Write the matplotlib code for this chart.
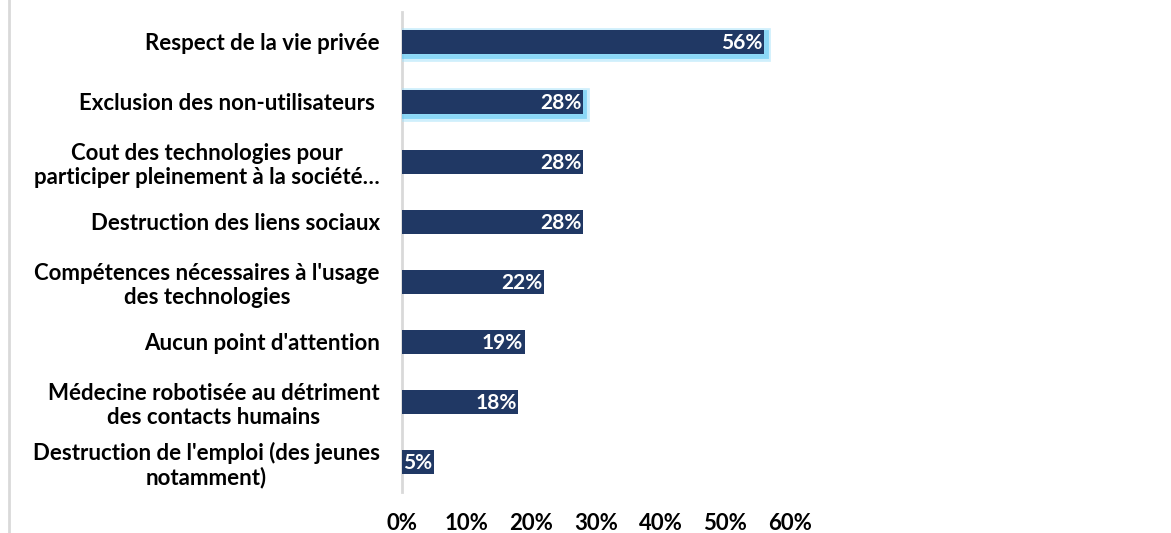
import matplotlib
matplotlib.use("Agg")
import matplotlib.pyplot as plt
import matplotlib.patheffects as pe
from matplotlib.lines import Line2D

categories = [
    "Respect de la vie privée",
    "Exclusion des non-utilisateurs ",
    "Cout des technologies pour\nparticiper pleinement à la société…",
    "Destruction des liens sociaux",
    "Compétences nécessaires à l'usage\ndes technologies",
    "Aucun point d'attention",
    "Médecine robotisée au détriment\ndes contacts humains",
    "Destruction de l'emploi (des jeunes\nnotamment)",
]
values = [56, 28, 28, 28, 22, 19, 18, 5]
glow = [True, True, False, False, False, False, False, False]
xticks = [0, 10, 20, 30, 40, 50, 60]
xticklabels = ["0%", "10%", "20%", "30%", "40%", "50%", "60%"]

plt.rcParams['font.family'] = ['Lato', 'DejaVu Sans']

W, H = 1171, 533
fig = plt.figure(figsize=(W / 100, H / 100), dpi=100)
ax = fig.add_axes([402 / W, 1 - 492 / H, (790 - 402) / W, 480 / H])

bar_color = "#203864"
ypos = list(range(len(categories)))
bars = ax.barh(ypos, values, height=0.4, color=bar_color, zorder=3)
for b, g in zip(bars, glow):
    if g:
        b.set_path_effects([
            pe.SimpleLineShadow(offset=(1.5, -2), shadow_color="#a8e2fa", alpha=0.55, linewidth=7),
            pe.SimpleLineShadow(offset=(1, -1.5), shadow_color="#5ec8f3", alpha=0.6, linewidth=3.5),
            pe.Normal(),
        ])

for y, v in zip(ypos, values):
    ax.text(v - 0.3, y + 0.02, f"{v}%", ha="right", va="center", color="white",
            fontsize=15, fontweight="bold", zorder=4)

ax.set_ylim(len(categories) - 0.5, -0.5)
ax.set_xlim(0, 60)
ax.set_yticks(ypos)
ax.set_yticklabels(categories, fontsize=16, fontweight="bold", multialignment="center",
                   linespacing=1.15)
ax.set_xticks(xticks)
ax.set_xticklabels(xticklabels, fontsize=16, fontweight="bold")
ax.tick_params(axis="y", length=0, pad=16)
ax.tick_params(axis="x", length=0, pad=15)
for s in ["top", "right", "bottom"]:
    ax.spines[s].set_visible(False)
ax.spines["left"].set_color("#d9d9d9")
ax.spines["left"].set_linewidth(2)

fig.add_artist(Line2D([8.5 / W, 8.5 / W], [0, 1], color="#d9d9d9", linewidth=2,
                      transform=fig.transFigure))

fig.savefig("out.png", dpi=100)
